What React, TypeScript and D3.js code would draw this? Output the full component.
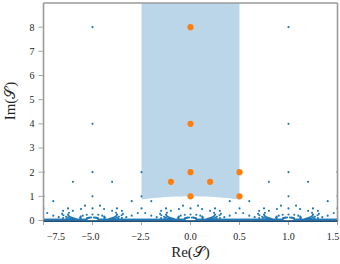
import React from "react";
import * as d3 from "d3";

const W = 340;
const H = 264;

// Orange points (fundamental domain)
const orangeX = [0, 0, 0, 0, -0.2, 0.2, 0.5, 0.5];
const orangeY = [8, 4, 2, 1, 1.6, 1.6, 2, 1];

// Upper blue points (translates)
const upperX = [-1.5, -1.5, -1, -1, -1, -1, -1.2, -0.8, -0.5, -0.5, 0.8, 1.2, 1, 1, 1, 1, 1.5, 1.5, -1.5, -0.5, 0.5, 1.5, -1, -1, 0, 0, 1, 1];
const upperY = [2, 1, 8, 4, 2, 1, 1.6, 1.6, 2, 1, 1.6, 1.6, 8, 4, 2, 1, 2, 1, 0.5, 0.5, 0.5, 0.5, 0.5, 0.25, 0.5, 0.25, 0.5, 0.25];

// Lower blue points: shared heights, x positions per half-period
const lowY = [0.123, 0.118, 0.11, 0.1, 0.09, 0.235, 0.2, 0.16, 0.125, 0.098, 0.4, 0.25, 0.154, 0.1, 0.069, 0.2, 0.1, 0.059, 0.038, 0.615, 0.5, 0.4, 0.276, 0.216, 0.154, 0.125, 0.094, 0.079, 0.471, 0.32, 0.195, 0.123, 0.083, 0.8, 0.308, 0.138, 0.076, 0.047];
const xLeftA = [-0.985, -0.971, -0.959, -0.95, -0.944, -0.941, -0.9, -0.88, -0.875, -0.878, -0.8, -0.75, -0.769, -0.8, -0.828, -0.6, -0.7, -0.765, -0.808, -0.923, -0.75, -0.7, -0.69, -0.703, -0.731, -0.75, -0.776, -0.792, -0.882, -0.76, -0.756, -0.785, -0.814, -0.6, -0.538, -0.655, -0.736, -0.788];
const xLeftB = [-1.015, -1.029, -1.041, -1.05, -1.056, -1.059, -1.1, -1.12, -1.125, -1.122, -1.2, -1.25, -1.231, -1.2, -1.172, -1.4, -1.3, -1.235, -1.192, -1.077, -1.25, -1.3, -1.31, -1.297, -1.269, -1.25, -1.224, -1.208, -1.118, -1.24, -1.244, -1.215, -1.186, -1.4, -1.462, -1.345, -1.264, -1.212];
const xMidA = [0.015, 0.029, 0.041, 0.05, 0.056, 0.059, 0.1, 0.12, 0.125, 0.122, 0.2, 0.25, 0.231, 0.2, 0.172, 0.4, 0.3, 0.235, 0.192, 0.077, 0.25, 0.3, 0.31, 0.297, 0.269, 0.25, 0.224, 0.208, 0.118, 0.24, 0.244, 0.215, 0.186, 0.4, 0.462, 0.345, 0.264, 0.212];
const xMidB = [-0.015, -0.029, -0.041, -0.05, -0.056, -0.059, -0.1, -0.12, -0.125, -0.122, -0.2, -0.25, -0.231, -0.2, -0.172, -0.4, -0.3, -0.235, -0.192, -0.077, -0.25, -0.3, -0.31, -0.297, -0.269, -0.25, -0.224, -0.208, -0.118, -0.24, -0.244, -0.215, -0.186, -0.4, -0.462, -0.345, -0.264, -0.212];
const xRightA = [1.015, 1.029, 1.041, 1.05, 1.056, 1.059, 1.1, 1.12, 1.125, 1.122, 1.2, 1.25, 1.231, 1.2, 1.172, 1.4, 1.3, 1.235, 1.192, 1.077, 1.25, 1.3, 1.31, 1.297, 1.269, 1.25, 1.224, 1.208, 1.118, 1.24, 1.244, 1.215, 1.186, 1.4, 1.462, 1.345, 1.264, 1.212];
const xRightB = [0.985, 0.971, 0.959, 0.95, 0.944, 0.941, 0.9, 0.88, 0.875, 0.878, 0.8, 0.75, 0.769, 0.8, 0.828, 0.6, 0.7, 0.765, 0.808, 0.923, 0.75, 0.7, 0.69, 0.703, 0.731, 0.75, 0.776, 0.792, 0.882, 0.76, 0.756, 0.785, 0.814, 0.6, 0.538, 0.655, 0.736, 0.788];

// Dense band near the real axis, with horocycle gaps at integers
const bandYRange = [0, 0.08];
const gapCenters = [-1, 0, 1];
const gapRadius = 0.0625;

// Fundamental domain boundary
const domainX = [-0.5, -0.45, -0.4, -0.35, -0.3, -0.25, -0.2, -0.15, -0.1, -0.05, 0, 0.05, 0.1, 0.15, 0.2, 0.25, 0.3, 0.35, 0.4, 0.45, 0.5];
const domainY = [0.866, 0.893, 0.9165, 0.9367, 0.9539, 0.9682, 0.9798, 0.9887, 0.995, 0.9987, 1, 0.9987, 0.995, 0.9887, 0.9798, 0.9682, 0.9539, 0.9367, 0.9165, 0.893, 0.866];
const domainTop = 9;

// Ticks
const xTickValues = [-1.5, -1, -0.5, 0, 0.5, 1, 1.5];
const xTickLabelPos = [-1.372, -1.02, -0.51, 0, 0.5, 1, 1.455];
const xTickLabels = ["\u22127.5", "\u22125.0", "\u22122.5", "0.0", "0.5", "1.0", "1.5"];
const yTickValues = [0, 1, 2, 3, 4, 5, 6, 7, 8];

const BLUE = "#1f77b4";
const ORANGE = "#ff7f0e";
const SPINE = "#9a9a9a";
const FONT = "'Liberation Serif', 'DejaVu Serif', serif";

export default function App() {
  const x = d3.scaleLinear().domain([-1.5, 1.5]).range([43.5, 337.5]);
  const y = d3.scaleLinear().domain([0, 9]).range([220.5, 3]);
  const [x0, x1] = x.range();
  const [yb, yt] = y.range();

  const arcPts: [number, number][] = domainX.map((d, i) => [x(d), y(domainY[i])]);
  const region =
    `M${x(-0.5)},${y(domainTop)} L${x(0.5)},${y(domainTop)} ` +
    arcPts.slice().reverse().map((p) => `L${p[0]},${p[1]}`).join(" ") + " Z";

  const lowPts: [number, number][] = [];
  [xLeftA, xLeftB, xMidA, xMidB, xRightA, xRightB].forEach((arr) =>
    arr.forEach((v, i) => lowPts.push([v, lowY[i]]))
  );
  const upPts: [number, number][] = upperX.map((v, i) => [v, upperY[i]]);
  const bluePts = [...lowPts, ...upPts];

  const rxPx = x(gapRadius) - x(0);
  const ryPx = y(0) - y(gapRadius);

  return (
    <svg width={W} height={H} style={{ position: "absolute", left: 0, top: 0, background: "#fff" }}>
      <defs>
        <clipPath id="plotclip">
          <rect x={x0} y={yt} width={x1 - x0} height={yb - yt + 1} />
        </clipPath>
      </defs>
      <g clipPath="url(#plotclip)">
        <path d={region} fill="#bcd6e9" />
        <rect x={x0} y={y(bandYRange[1])} width={x1 - x0} height={y(bandYRange[0]) - y(bandYRange[1])} fill={BLUE} />
        {gapCenters.map((c) => (
          <ellipse key={c} cx={x(c)} cy={y(gapRadius)} rx={rxPx * 0.85} ry={ryPx} fill="#fff" />
        ))}
        {bluePts.map((p, i) => (
          <circle key={i} cx={x(p[0])} cy={y(p[1])} r={1.05} fill={BLUE} />
        ))}
        {orangeX.map((v, i) => (
          <circle key={"o" + i} cx={x(v)} cy={y(orangeY[i])} r={3.1} fill={ORANGE} />
        ))}
      </g>
      {/* spines */}
      <line x1={x0} x2={x1} y1={yt} y2={yt} stroke={SPINE} strokeWidth={1.4} />
      <line x1={x0} x2={x0} y1={yt} y2={yb + 1} stroke={SPINE} strokeWidth={1.6} />
      <line x1={x1} x2={x1} y1={yt} y2={yb + 1} stroke={SPINE} strokeWidth={1.6} />
      <line x1={x0} x2={x1} y1={yb + 0.6} y2={yb + 0.6} stroke="#1c4e7a" strokeWidth={1.6} />
      {/* y ticks */}
      {yTickValues.map((v) => (
        <g key={"y" + v}>
          <line x1={x0 - 5} x2={x0 - 0.8} y1={y(v)} y2={y(v)} stroke={SPINE} strokeWidth={0.9} />
          <text x={x0 - 9} y={y(v)} dy="0.34em" textAnchor="end" fontFamily={FONT} fontSize={10} fill="#222">
            {v}
          </text>
        </g>
      ))}
      {/* x ticks */}
      {xTickValues.map((v, i) => (
        <g key={"x" + i}>
          <line x1={x(v)} x2={x(v)} y1={yb + 1.4} y2={yb + 4.5} stroke={SPINE} strokeWidth={0.9} />
          <text x={x(xTickLabelPos[i])} y={240} textAnchor="middle" fontFamily={FONT} fontSize={10} fill="#222">
            {xTickLabels[i]}
          </text>
        </g>
      ))}
      <text x={190.5} y={256.5} textAnchor="middle" fontFamily={FONT} fontSize={15} fill="#222">
        Re(𝒮)
      </text>
      <text transform="translate(14.5,101) rotate(-90)" textAnchor="middle" fontFamily={FONT} fontSize={15} fill="#222">
        Im(𝒮)
      </text>
    </svg>
  );
}
